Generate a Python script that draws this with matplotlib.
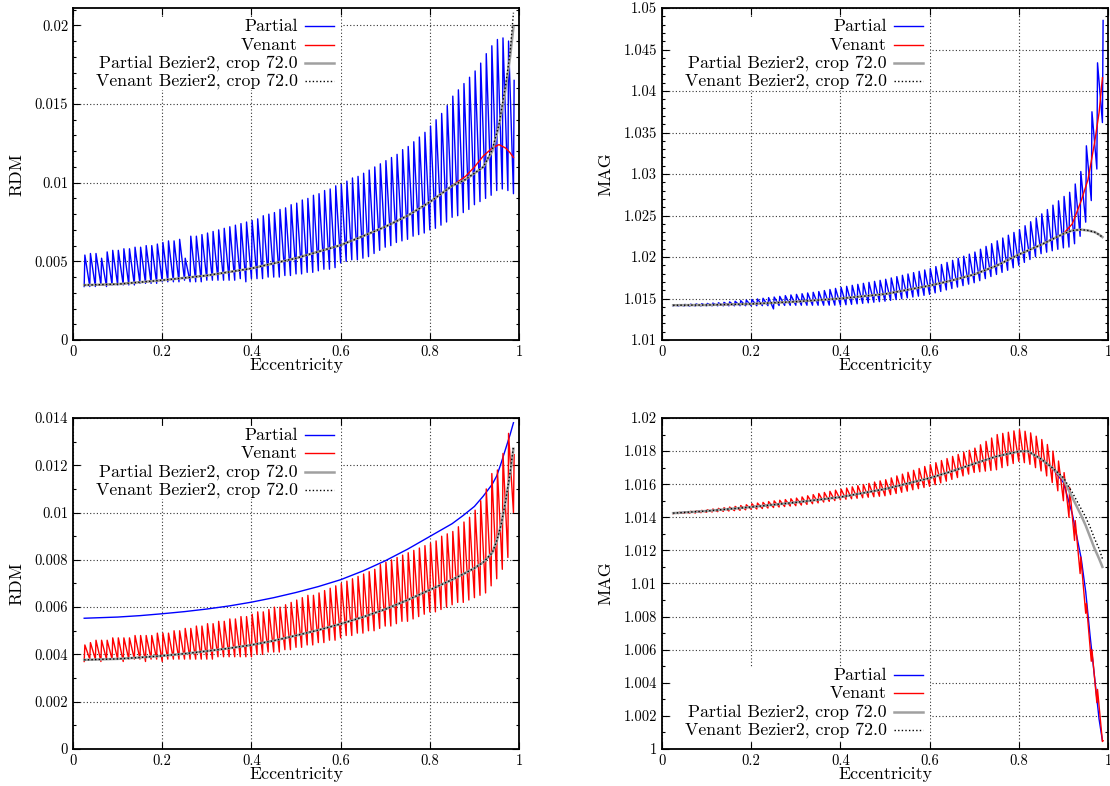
import matplotlib
matplotlib.use("Agg")
import matplotlib.pyplot as plt
from matplotlib.patches import Rectangle
from matplotlib.ticker import MultipleLocator, FuncFormatter

plt.rcParams['font.family'] = 'cmr10'
plt.rcParams['axes.formatter.use_mathtext'] = True
plt.rcParams['mathtext.fontset'] = 'cm'

# eccentricity of every tooth of the oscillating series
ecc_teeth = [0.025, 0.0375, 0.05, 0.0625, 0.075, 0.0875, 0.1, 0.1125, 0.125, 0.1375,
             0.15, 0.1625, 0.175, 0.1875, 0.2, 0.2125, 0.225, 0.2375, 0.25, 0.2625,
             0.275, 0.2875, 0.3, 0.3125, 0.325, 0.3375, 0.35, 0.3625, 0.375, 0.3875,
             0.4, 0.4125, 0.425, 0.4375, 0.45, 0.4625, 0.475, 0.4875, 0.5, 0.5125,
             0.525, 0.5375, 0.55, 0.5625, 0.575, 0.5875, 0.6, 0.6125, 0.625, 0.6375,
             0.65, 0.6625, 0.675, 0.6875, 0.7, 0.7125, 0.725, 0.7375, 0.75, 0.7625,
             0.775, 0.7875, 0.8, 0.8125, 0.825, 0.8375, 0.85, 0.8625, 0.875, 0.8875,
             0.9, 0.9125, 0.925, 0.9375, 0.95, 0.9625, 0.975, 0.9875]

# --- top left: RDM, partial oscillates ---
rdm1_partial_hi = [0.0054, 0.0055, 0.0055, 0.0052, 0.0056, 0.0057, 0.0057, 0.0058, 0.0058, 0.0059,
                   0.0059, 0.0060, 0.0060, 0.0061, 0.0062, 0.0063, 0.0063, 0.0064, 0.0052, 0.0066,
                   0.0066, 0.0067, 0.0068, 0.0069, 0.0070, 0.0071, 0.0072, 0.0073, 0.0074, 0.0075,
                   0.0076, 0.0077, 0.0079, 0.0080, 0.0081, 0.0083, 0.0084, 0.0086, 0.0087, 0.0089,
                   0.0090, 0.0092, 0.0093, 0.0095, 0.0096, 0.0098, 0.0099, 0.0101, 0.0103, 0.0104,
                   0.0106, 0.0108, 0.0110, 0.0112, 0.0114, 0.0116, 0.0118, 0.0121, 0.0123, 0.0126,
                   0.0129, 0.0132, 0.0136, 0.0140, 0.0144, 0.0149, 0.0155, 0.0159, 0.0163, 0.0167,
                   0.0171, 0.0176, 0.0182, 0.0187, 0.0191, 0.0192, 0.0190, 0.0165]
rdm1_partial_lo = [0.0034, 0.0034, 0.0034, 0.0035, 0.0034, 0.0035, 0.0035, 0.0035, 0.0035, 0.0035,
                   0.0036, 0.0036, 0.0036, 0.0036, 0.0037, 0.0037, 0.0037, 0.0037, 0.0038, 0.0037,
                   0.0037, 0.0037, 0.0038, 0.0038, 0.0038, 0.0038, 0.0038, 0.0038, 0.0039, 0.0037,
                   0.0039, 0.0039, 0.0039, 0.0040, 0.0040, 0.0040, 0.0041, 0.0041, 0.0042, 0.0042,
                   0.0043, 0.0043, 0.0044, 0.0045, 0.0045, 0.0046, 0.0049, 0.0050, 0.0051, 0.0051,
                   0.0052, 0.0053, 0.0055, 0.0057, 0.0059, 0.0060, 0.0062, 0.0063, 0.0064, 0.0066,
                   0.0067, 0.0068, 0.0070, 0.0071, 0.0073, 0.0075, 0.0078, 0.0079, 0.0081, 0.0083,
                   0.0086, 0.0088, 0.0090, 0.0092, 0.0095, 0.0096, 0.0095, 0.0093]
rdm1_ecc = [0.025, 0.1, 0.2, 0.3, 0.4, 0.5, 0.6, 0.65, 0.7, 0.75, 0.8, 0.85, 0.88, 0.9,
            0.92, 0.94, 0.955, 0.97, 0.98, 0.9875]
rdm1_venant = [0.00349, 0.00355, 0.0038, 0.0041, 0.00455, 0.0052, 0.00603, 0.0066, 0.0072, 0.0079,
               0.00877, 0.0098, 0.0104, 0.0110, 0.0117, 0.0122, 0.01242, 0.0122, 0.0119, 0.0116]
rdm1_bez_partial = [0.00349, 0.00355, 0.0038, 0.0041, 0.00455, 0.0052, 0.00603, 0.0066, 0.0072, 0.0079,
                    0.00877, 0.0098, 0.0102, 0.0106, 0.0110, 0.0120, 0.0136, 0.0160, 0.0180, 0.0199]
rdm1_bez_venant = [0.00349, 0.00355, 0.0038, 0.0041, 0.00455, 0.0052, 0.00603, 0.0066, 0.0072, 0.0079,
                   0.00877, 0.0098, 0.0102, 0.0106, 0.0110, 0.0121, 0.0137, 0.0162, 0.0183, 0.0208]

# --- top right: MAG, partial oscillates ---
mag1_partial_hi = [1.01425, 1.01427, 1.01429, 1.01432, 1.01435, 1.01438, 1.01441, 1.01445, 1.01449, 1.01454,
                   1.01460, 1.01467, 1.01474, 1.01481, 1.01488, 1.01495, 1.01503, 1.01511, 1.01518, 1.01526,
                   1.01535, 1.01543, 1.01550, 1.01558, 1.01567, 1.01575, 1.01584, 1.01596, 1.01609, 1.01622,
                   1.01635, 1.01647, 1.01659, 1.01671, 1.01683, 1.01695, 1.01707, 1.01719, 1.01732, 1.01748,
                   1.01764, 1.01780, 1.01796, 1.01812, 1.01828, 1.01844, 1.01860, 1.01885, 1.01910, 1.01935,
                   1.01960, 1.01985, 1.02010, 1.02035, 1.02060, 1.02094, 1.02128, 1.02161, 1.02195, 1.02229,
                   1.02263, 1.02296, 1.02330, 1.02377, 1.02425, 1.02472, 1.02520, 1.02572, 1.02625, 1.02677,
                   1.02730, 1.02780, 1.02880, 1.03030, 1.03340, 1.03750, 1.04340, 1.04850]
mag1_partial_lo = [1.01412, 1.01411, 1.01411, 1.01410, 1.01411, 1.01411, 1.01412, 1.01412, 1.01412, 1.01412,
                   1.01412, 1.01412, 1.01413, 1.01413, 1.01413, 1.01413, 1.01414, 1.01414, 1.01375, 1.01416,
                   1.01417, 1.01418, 1.01419, 1.01419, 1.01419, 1.01419, 1.01419, 1.01419, 1.01420, 1.01420,
                   1.01420, 1.01425, 1.01430, 1.01436, 1.01442, 1.01448, 1.01455, 1.01462, 1.01468, 1.01478,
                   1.01488, 1.01498, 1.01508, 1.01518, 1.01528, 1.01538, 1.01550, 1.01568, 1.01585, 1.01603,
                   1.01620, 1.01638, 1.01655, 1.01673, 1.01690, 1.01715, 1.01740, 1.01765, 1.01790, 1.01815,
                   1.01840, 1.01870, 1.01900, 1.01935, 1.01970, 1.02005, 1.02040, 1.02058, 1.02075, 1.02093,
                   1.02110, 1.02120, 1.02160, 1.02250, 1.02420, 1.02680, 1.03060, 1.03620]
mag1_ecc = [0.025, 0.1, 0.2, 0.3, 0.4, 0.5, 0.6, 0.65, 0.7, 0.75, 0.8, 0.85, 0.9, 0.92,
            0.94, 0.955, 0.97, 0.98, 0.9875]
mag1_venant = [1.01419, 1.01422, 1.01435, 1.01462, 1.01500, 1.01554, 1.01655, 1.01718, 1.01790, 1.01895,
               1.02030, 1.02148, 1.02280, 1.02400, 1.02680, 1.02930, 1.03380, 1.03740, 1.04160]
mag1_bez_partial = [1.01419, 1.01422, 1.01435, 1.01462, 1.01500, 1.01554, 1.01655, 1.01718, 1.01790, 1.01895,
                    1.02030, 1.02148, 1.02280, 1.02320, 1.02330, 1.02320, 1.02300, 1.02270, 1.02240]
mag1_bez_venant = [1.01419, 1.01422, 1.01435, 1.01462, 1.01500, 1.01554, 1.01655, 1.01718, 1.01790, 1.01895,
                   1.02030, 1.02148, 1.02280, 1.02320, 1.02330, 1.02320, 1.02300, 1.02270, 1.02240]

# --- bottom left: RDM, venant oscillates ---
rdm2_venant_hi = [0.0044, 0.0045, 0.0046, 0.0046, 0.0046, 0.0047, 0.0047, 0.0047, 0.0047, 0.0048,
                  0.0048, 0.0048, 0.0048, 0.0049, 0.0049, 0.0049, 0.0050, 0.0050, 0.0051, 0.0051,
                  0.0052, 0.0052, 0.0053, 0.0053, 0.0054, 0.0054, 0.0055, 0.0055, 0.0056, 0.0056,
                  0.0057, 0.0058, 0.0058, 0.0059, 0.0060, 0.0060, 0.0061, 0.0062, 0.0063, 0.0064,
                  0.0065, 0.0065, 0.0066, 0.0067, 0.0068, 0.0069, 0.0070, 0.0071, 0.0072, 0.0073,
                  0.0074, 0.0075, 0.0076, 0.0078, 0.0079, 0.0080, 0.0081, 0.0082, 0.0083, 0.0084,
                  0.0085, 0.0086, 0.0087, 0.0088, 0.0090, 0.0091, 0.0092, 0.0094, 0.0096, 0.0098,
                  0.0101, 0.0105, 0.0110, 0.01165, 0.0118, 0.0125, 0.01335, 0.01245]
rdm2_venant_lo = [0.0037, 0.0038, 0.0038, 0.0037, 0.0038, 0.0038, 0.0038, 0.0037, 0.0038, 0.0038,
                  0.0038, 0.0037, 0.0038, 0.0038, 0.0037, 0.0038, 0.0038, 0.0038, 0.0038, 0.0038,
                  0.0038, 0.0038, 0.0038, 0.0038, 0.0039, 0.0039, 0.0039, 0.0039, 0.0039, 0.0039,
                  0.0039, 0.0040, 0.0040, 0.0041, 0.0041, 0.0041, 0.0042, 0.0042, 0.0043, 0.0043,
                  0.0044, 0.0044, 0.0045, 0.0045, 0.0046, 0.0046, 0.0047, 0.0048, 0.0048, 0.0049,
                  0.0049, 0.0050, 0.0050, 0.0051, 0.0052, 0.0052, 0.0053, 0.0054, 0.0054, 0.0055,
                  0.0056, 0.0057, 0.0058, 0.0058, 0.0059, 0.0060, 0.0061, 0.0062, 0.0062, 0.0063,
                  0.0064, 0.0065, 0.0066, 0.0069, 0.0072, 0.0076, 0.0081, 0.0100]
rdm2_ecc = [0.025, 0.1, 0.15, 0.2, 0.25, 0.3, 0.35, 0.4, 0.45, 0.5, 0.55, 0.6, 0.65,
            0.7, 0.75, 0.8, 0.85, 0.875, 0.9, 0.92, 0.94, 0.95, 0.96, 0.97, 0.98, 0.9875]
rdm2_partial = [0.00553, 0.00558, 0.00564, 0.00572, 0.00581, 0.00592, 0.00605, 0.00621, 0.00640,
                0.00662, 0.00687, 0.00716, 0.00753, 0.00796, 0.00845, 0.00899, 0.00953, 0.00988,
                0.01026, 0.0107, 0.0112, 0.01155, 0.0121, 0.0127, 0.0133, 0.0138]
rdm2_bez_partial = [0.00377, 0.00381, 0.00387, 0.00394, 0.00403, 0.00414, 0.00426, 0.00440, 0.00458,
                    0.00480, 0.00503, 0.00529, 0.00558, 0.00591, 0.00630, 0.00673, 0.00716, 0.00740,
                    0.00765, 0.0079, 0.0083, 0.0088, 0.0095, 0.0105, 0.0116, 0.0127]
rdm2_bez_venant = [0.00377, 0.00381, 0.00387, 0.00394, 0.00403, 0.00414, 0.00426, 0.00440, 0.00458,
                   0.00480, 0.00503, 0.00529, 0.00558, 0.00591, 0.00630, 0.00673, 0.00716, 0.00740,
                   0.00765, 0.0079, 0.0083, 0.0088, 0.0095, 0.0105, 0.0117, 0.0128]

# --- bottom right: MAG, venant oscillates ---
mag2_venant_hi = [1.01428, 1.01430, 1.01433, 1.01436, 1.01439, 1.01442, 1.01446, 1.01450, 1.01454, 1.01458,
                  1.01462, 1.01466, 1.01471, 1.01476, 1.01482, 1.01486, 1.01490, 1.01495, 1.01499, 1.01503,
                  1.01507, 1.01512, 1.01516, 1.01523, 1.01530, 1.01537, 1.01544, 1.01550, 1.01557, 1.01564,
                  1.01570, 1.01577, 1.01584, 1.01591, 1.01598, 1.01605, 1.01613, 1.01620, 1.01627, 1.01638,
                  1.01650, 1.01661, 1.01672, 1.01684, 1.01695, 1.01707, 1.01718, 1.01730, 1.01743, 1.01755,
                  1.01768, 1.01780, 1.01793, 1.01805, 1.01818, 1.01838, 1.01859, 1.01879, 1.01900, 1.01907,
                  1.01914, 1.01922, 1.01929, 1.01920, 1.01910, 1.01890, 1.01870, 1.01840, 1.01800, 1.01740,
                  1.01670, 1.01580, 1.01380, 1.01160, 1.00880, 1.00600, 1.00360, 1.00050]
mag2_venant_lo = [1.01422, 1.01423, 1.01424, 1.01425, 1.01426, 1.01428, 1.01430, 1.01432, 1.01434, 1.01436,
                  1.01438, 1.01440, 1.01442, 1.01445, 1.01448, 1.01450, 1.01453, 1.01456, 1.01459, 1.01462,
                  1.01465, 1.01468, 1.01470, 1.01474, 1.01478, 1.01482, 1.01487, 1.01492, 1.01496, 1.01501,
                  1.01506, 1.01509, 1.01512, 1.01515, 1.01518, 1.01521, 1.01524, 1.01527, 1.01530, 1.01537,
                  1.01544, 1.01551, 1.01558, 1.01566, 1.01573, 1.01580, 1.01587, 1.01597, 1.01608, 1.01618,
                  1.01629, 1.01640, 1.01650, 1.01661, 1.01671, 1.01675, 1.01679, 1.01683, 1.01687, 1.01700,
                  1.01712, 1.01725, 1.01738, 1.01730, 1.01720, 1.01700, 1.01680, 1.01650, 1.01610, 1.01560,
                  1.01500, 1.01400, 1.01260, 1.01060, 1.00820, 1.00530, 1.00280, 1.00045]
mag2_ecc = [0.025, 0.1, 0.2, 0.3, 0.4, 0.5, 0.6, 0.65, 0.7, 0.75, 0.8, 0.82, 0.85, 0.875,
            0.9, 0.92, 0.94, 0.95, 0.96, 0.97, 0.98, 0.9875]
mag2_partial = [1.01425, 1.01438, 1.01462, 1.01490, 1.01522, 1.01571, 1.01637, 1.01678, 1.01724,
                1.01768, 1.01798, 1.01800, 1.01752, 1.01697, 1.01610, 1.01420, 1.01150, 1.00950,
                1.00680, 1.00430, 1.00180, 1.00050]
mag2_bez_partial = [1.01425, 1.01438, 1.01462, 1.01490, 1.01522, 1.01571, 1.01637, 1.01678, 1.01724,
                    1.01768, 1.01798, 1.01800, 1.01752, 1.01700, 1.01630, 1.01520, 1.01410, 1.01350,
                    1.01280, 1.01210, 1.01150, 1.01100]
mag2_bez_venant = [1.01425, 1.01438, 1.01462, 1.01490, 1.01522, 1.01571, 1.01637, 1.01678, 1.01724,
                   1.01768, 1.01798, 1.01800, 1.01752, 1.01700, 1.01640, 1.01550, 1.01450, 1.01400,
                   1.01340, 1.01270, 1.01210, 1.01150]

labels = ["Partial", "Venant", "Partial Bezier2, crop 72.0", "Venant Bezier2, crop 72.0"]

BLUE = dict(color='#0000ff', lw=1.0)
RED = dict(color='#ff0000', lw=1.0)
GRAY = dict(color='#a0a0a0', lw=1.8)
DOTS = dict(color='black', lw=1.0, ls=(0, (1, 1.6)))


def zigzag(lo, hi):
    # each tooth: a near vertical rise at the sample, then the fall to the next one
    xs, ys = [], []
    for e, a, b in zip(ecc_teeth, lo, hi):
        xs += [e, e + 0.0015]
        ys += [a, b]
    return xs, ys


def fmt(v, pos):
    return "%g" % round(v, 6)


def setup(ax, ylim, major, ylabel, label_x):
    ax.set_xlim(0, 1)
    ax.set_ylim(*ylim)
    ax.xaxis.set_major_locator(MultipleLocator(0.2))
    ax.yaxis.set_major_locator(MultipleLocator(major))
    ax.yaxis.set_minor_locator(MultipleLocator(0.001))
    ax.xaxis.set_major_formatter(FuncFormatter(fmt))
    ax.yaxis.set_major_formatter(FuncFormatter(fmt))
    ax.tick_params(which='both', direction='in', top=True, right=True, labelsize=10.5)
    ax.tick_params(which='major', length=5, width=0.8, pad=3.5)
    ax.tick_params(which='minor', length=2.5, width=0.8)
    for s in ax.spines.values():
        s.set_linewidth(1.3)
    ax.set_axisbelow(True)
    ax.grid(True, which='major', color='0.2', lw=0.8, ls=(0, (1, 2)))
    ax.set_xlabel("Eccentricity", fontsize=12.8)
    ax.set_ylabel(ylabel, fontsize=12.8)
    ax.xaxis.set_label_coords(0.5, -0.052)
    ax.yaxis.set_label_coords(label_x, 0.5)


def key(ax, rows, box):
    ax.add_patch(Rectangle((box[0], box[1]), box[2], box[3], transform=ax.transAxes,
                           facecolor='white', edgecolor='none', zorder=1.5))
    styles = [BLUE, RED, GRAY, DOTS]
    for label, y, st in zip(labels, rows, styles):
        ax.text(0.504, y, label, transform=ax.transAxes, ha='right', va='center',
                fontsize=12.8, zorder=5)
        ax.plot([0.52, 0.585], [y, y], transform=ax.transAxes, zorder=5, **st)


fig = plt.figure(figsize=(11.1, 7.86), dpi=100)
ax1 = fig.add_axes([0.0658, 0.5674, 0.4018, 0.4224])
ax2 = fig.add_axes([0.5964, 0.5674, 0.4018, 0.4224])
ax3 = fig.add_axes([0.0658, 0.0471, 0.4018, 0.4211])
ax4 = fig.add_axes([0.5964, 0.0471, 0.4018, 0.4211])

top_rows = [0.946, 0.889, 0.834, 0.780]
bottom_rows = [0.224, 0.169, 0.112, 0.057]

# top left
setup(ax1, (0, 0.0211), 0.005, "RDM", -0.108)
ax1.plot(*zigzag(rdm1_partial_lo, rdm1_partial_hi), **BLUE)
ax1.plot(rdm1_ecc, rdm1_venant, **RED)
ax1.plot(rdm1_ecc, rdm1_bez_partial, **GRAY)
ax1.plot(rdm1_ecc, rdm1_bez_venant, **DOTS)
key(ax1, top_rows, (0.022, 0.753, 0.578, 0.22))

# top right
setup(ax2, (1.01, 1.05), 0.005, "MAG", -0.11)
ax2.plot(*zigzag(mag1_partial_lo, mag1_partial_hi), **BLUE)
ax2.plot(mag1_ecc, mag1_venant, **RED)
ax2.plot(mag1_ecc, mag1_bez_partial, **GRAY)
ax2.plot(mag1_ecc, mag1_bez_venant, **DOTS)
key(ax2, top_rows, (0.022, 0.753, 0.578, 0.22))

# bottom left
setup(ax3, (0, 0.014), 0.002, "RDM", -0.108)
ax3.plot(rdm2_ecc, rdm2_partial, **BLUE)
ax3.plot(*zigzag(rdm2_venant_lo, rdm2_venant_hi), **RED)
ax3.plot(rdm2_ecc, rdm2_bez_partial, **GRAY)
ax3.plot(rdm2_ecc, rdm2_bez_venant, **DOTS)
key(ax3, [0.949, 0.894, 0.837, 0.782], (0.022, 0.755, 0.578, 0.22))

# bottom right
setup(ax4, (1.0, 1.02), 0.002, "MAG", -0.11)
ax4.plot(mag2_ecc, mag2_partial, **BLUE)
ax4.plot(*zigzag(mag2_venant_lo, mag2_venant_hi), **RED)
ax4.plot(mag2_ecc, mag2_bez_partial, **GRAY)
ax4.plot(mag2_ecc, mag2_bez_venant, **DOTS)
key(ax4, bottom_rows, (0.022, 0.025, 0.578, 0.223))

fig.savefig("out.png", dpi=100)
